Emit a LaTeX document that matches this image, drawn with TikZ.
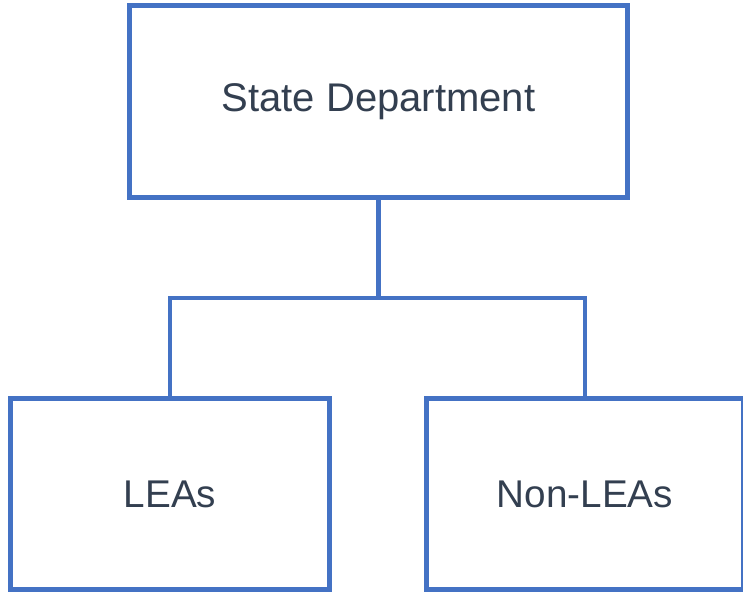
\documentclass[tikz,border=0pt]{standalone}
\usepackage{fontspec}
\setmainfont{Liberation Sans}
\usepackage{tikz}
\usetikzlibrary{calc}

\definecolor{orgblue}{HTML}{4472C4}
\definecolor{orgtext}{HTML}{333F50}

\begin{document}
\begin{tikzpicture}[x=0.75pt, y=-0.75pt]
    \tikzstyle{unit} = [
      draw=orgblue,
      line width=3.6pt,
      fill=white,
      anchor=center,
      align=center,
      text=orgtext,
      font=\fontsize{30}{36}\selectfont,
    ]
    \tikzstyle{link} = [
      line width=3.6pt,
      draw=orgblue,
    ]

    \useasboundingbox (0,0) rectangle (743,592);
    \clip (0,0) rectangle (743,592);

    % state
    {
      \node[unit, minimum width=373.5pt, minimum height=144pt] (state) at (378.5,101.5) {State Department};
    }

    % lower level
    {
      \node[unit, minimum width=239pt, minimum height=143pt, font=\fontsize{29}{35}\selectfont] (leas) at (170,494) {LEAs};
      \node[unit, minimum width=238pt, minimum height=143pt, font=\fontsize{29}{35}\selectfont] (nonLeas) at (585,494) {Non-LEAs};
    }

    % connectors
    {
      \coordinate (split) at (state.south |- 0,298);
      \draw[link] (state.south) -- (split);
      \draw[link] (leas.north) |- (split) -| (nonLeas.north);
    }
\end{tikzpicture}
\end{document}
